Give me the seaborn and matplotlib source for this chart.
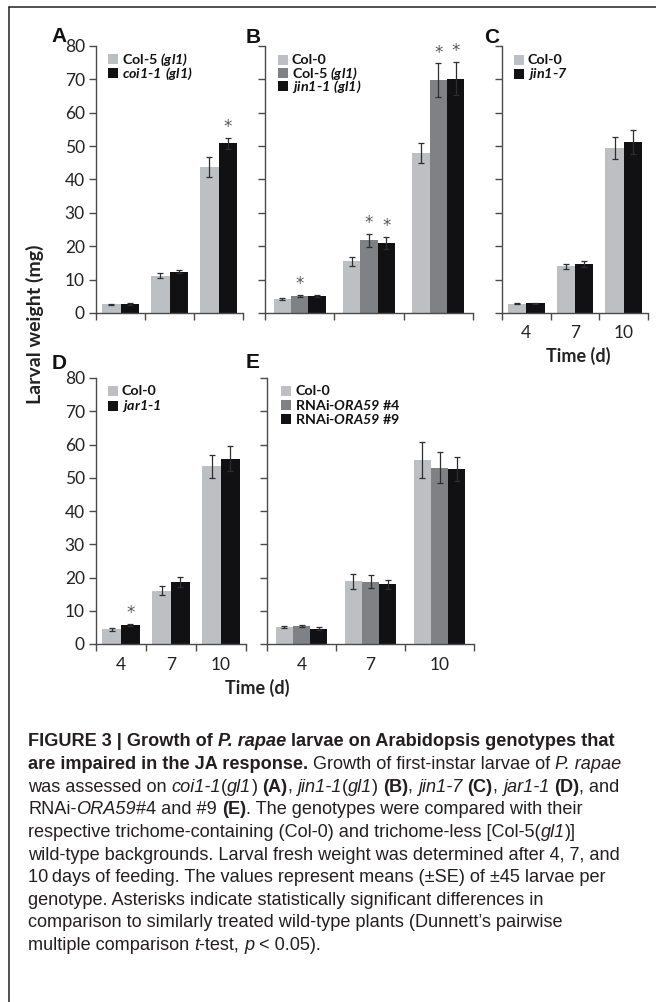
import matplotlib
matplotlib.use("Agg")
import matplotlib.pyplot as plt
from matplotlib import font_manager
from matplotlib.font_manager import FontProperties
from matplotlib.lines import Line2D
import seaborn as sns
import pandas as pd
import numpy as np

# ---------------- data ----------------
days = ["4", "7", "10"]

# Panel A
a_labels = [r"Col-5 $\mathbfit{(gl1)}$", r"$\mathbfit{coi1}$-$\mathbfit{1\ (gl1)}$"]
a_col5 = [2.6, 11.2, 43.7]
a_col5_se = [0.2, 0.7, 3.0]
a_coi1 = [2.7, 12.4, 50.8]
a_coi1_se = [0.3, 0.4, 1.6]
a_col5_sig = [0, 0, 0]
a_coi1_sig = [0, 0, 1]

# Panel B
b_labels = ["Col-0", r"Col-5 $\mathbfit{(gl1)}$", r"$\mathbfit{jin1}$-$\mathbfit{1\ (gl1)}$"]
b_col0 = [4.1, 15.5, 48.0]
b_col0_se = [0.3, 1.3, 3.0]
b_col5 = [5.2, 21.8, 69.8]
b_col5_se = [0.3, 1.9, 5.0]
b_jin1 = [5.2, 21.1, 70.2]
b_jin1_se = [0.3, 1.8, 5.0]
b_col0_sig = [0, 0, 0]
b_col5_sig = [1, 1, 1]
b_jin1_sig = [0, 1, 1]

# Panel C
c_labels = ["Col-0", r"$\mathbfit{jin1}$-$\mathbfit{7}$"]
c_col0 = [2.8, 14.0, 49.4]
c_col0_se = [0.2, 0.8, 3.3]
c_jin17 = [2.9, 14.6, 51.2]
c_jin17_se = [0.2, 0.9, 3.6]
c_col0_sig = [0, 0, 0]
c_jin17_sig = [0, 0, 0]

# Panel D
d_labels = ["Col-0", r"$\mathbfit{jar1}$-$\mathbfit{1}$"]
d_col0 = [4.4, 16.0, 53.4]
d_col0_se = [0.4, 1.3, 3.5]
d_jar1 = [5.7, 18.6, 55.7]
d_jar1_se = [0.4, 1.5, 3.7]
d_col0_sig = [0, 0, 0]
d_jar1_sig = [1, 0, 0]

# Panel E
e_labels = ["Col-0", r"RNAi-$\mathbfit{ORA59}$ #4", r"RNAi-$\mathbfit{ORA59}$ #9"]
e_col0 = [5.1, 18.8, 55.3]
e_col0_se = [0.4, 2.2, 5.5]
e_ora4 = [5.3, 18.7, 53.0]
e_ora4_se = [0.3, 2.0, 4.7]
e_ora9 = [4.6, 17.9, 52.6]
e_ora9_se = [0.5, 1.4, 3.7]
e_col0_sig = [0, 0, 0]
e_ora4_sig = [0, 0, 0]
e_ora9_sig = [0, 0, 0]

yticks = [0, 10, 20, 30, 40, 50, 60, 70, 80]
ylabel = "Larval weight (mg)"
xlabel = "Time (d)"
panel_letters = ["A", "B", "C", "D", "E"]

caption_lines = [
    [("FIGURE 3 | Growth of ", "b"), ("P. rapae", "bi"), (" larvae on Arabidopsis genotypes that", "b")],
    [("are impaired in the JA response.", "b"), (" Growth of first-instar larvae of ", "r"), ("P. rapae", "i")],
    [("was assessed on ", "r"), ("coi1-1", "i"), ("(", "r"), ("gl1", "i"), (") ", "r"), ("(A)", "b"),
     (", ", "r"), ("jin1-1", "i"), ("(", "r"), ("gl1", "i"), (") ", "r"), ("(B)", "b"), (", ", "r"),
     ("jin1-7", "i"), (" ", "r"), ("(C)", "b"), (", ", "r"), ("jar1-1", "i"), (" ", "r"), ("(D)", "b"),
     (", and", "r")],
    [("RNAi-", "r"), ("ORA59", "i"), ("#4 and #9 ", "r"), ("(E)", "b"),
     (". The genotypes were compared with their", "r")],
    [("respective trichome-containing (Col-0) and trichome-less [Col-5(", "r"), ("gl1", "i"), (")]", "r")],
    [("wild-type backgrounds. Larval fresh weight was determined after 4, 7, and", "r")],
    [("10\u2009days of feeding. The values represent means (\u00b1SE) of \u00b145 larvae per", "r")],
    [("genotype. Asterisks indicate statistically significant differences in", "r")],
    [("comparison to similarly treated wild-type plants (Dunnett\u2019s pairwise", "r")],
    [("multiple comparison ", "r"), ("t", "i"), ("-test, ", "r"), ("p", "i"), (" < 0.05).", "r")],
]

# ---------------- style ----------------
available = {f.name for f in font_manager.fontManager.ttflist}


def pick(*names):
    for n in names:
        if n in available:
            return n
    return "DejaVu Sans"


CHART_FONT = pick("Lato", "Open Sans", "DejaVu Sans")
CAP_FONT = pick("Liberation Sans", "DejaVu Sans")
LETTER_FONT = pick("Liberation Sans", "DejaVu Sans")

sns.set_theme(style="ticks")
plt.rcParams["font.family"] = [CHART_FONT, "DejaVu Sans"]
plt.rcParams["mathtext.fontset"] = "custom"
plt.rcParams["mathtext.rm"] = f"{CHART_FONT}:bold"
plt.rcParams["mathtext.bf"] = f"{CHART_FONT}:bold"
plt.rcParams["mathtext.it"] = f"{CHART_FONT}:italic:bold"
try:
    plt.rcParams["mathtext.bfit"] = f"{CHART_FONT}:italic:bold"
except KeyError:
    pass

W, H = 656, 1002
fig = plt.figure(figsize=(W / 100, H / 100), dpi=100)
fig.patch.set_facecolor("white")

LIGHT = "#bdbfc2"
MID = "#7f8185"
DARK = "#111113"
AXC = "#4a4a4a"


def fx(px):
    return px / W


def fy(py):
    return 1 - py / H


def make_ax(left, top, right, bottom):
    return fig.add_axes([fx(left), fy(bottom), (right - left) / W, (bottom - top) / H])


def draw_legend(labels, colors, marker_x, text_x, y0, dy):
    for k, (lab, c) in enumerate(zip(labels, colors)):
        yc = y0 + k * dy
        fig.add_artist(Line2D([fx(marker_x)], [fy(yc)], transform=fig.transFigure, marker="s",
                              linestyle="none", markersize=6.5, markerfacecolor=c,
                              markeredgewidth=0))
        fig.text(fx(text_x), fy(yc + 4.5), lab, ha="left", va="baseline", fontsize=10.3,
                 fontweight="bold", color="#111111")


def draw_panel(ax, labels, means, ses, sigs, colors, show_ylab, show_xlab, leg):
    rows = []
    for g, lab in enumerate(labels):
        for d, day in enumerate(days):
            rows.append({"day": day, "genotype": lab, "weight": means[g][d]})
    df = pd.DataFrame(rows)
    sns.barplot(data=df, x="day", y="weight", hue="genotype", order=days, hue_order=labels,
                palette=colors, width=0.75, gap=0, errorbar=None, saturation=1,
                linewidth=0, legend=False, ax=ax)
    for p in ax.patches:
        cx = p.get_x() + p.get_width() / 2
        d = int(round(cx))
        fc = p.get_facecolor()
        g = int(np.argmin([np.sum(np.abs(np.array(matplotlib.colors.to_rgba(c)) - np.array(fc)))
                           for c in colors]))
        m, e = means[g][d], ses[g][d]
        ax.errorbar(cx, m, yerr=e, fmt="none", ecolor="#2e2e2e", elinewidth=0.9,
                    capsize=2.3, capthick=0.9, zorder=4)
        if sigs[g][d]:
            ax.text(cx, m + e + 0.5, "*", ha="center", va="bottom", fontsize=12,
                    color="#555555", fontfamily="DejaVu Sans", zorder=5)
    ax.set_ylim(0, 80)
    ax.set_xlim(-0.5, 2.5)
    ax.set_yticks(yticks)
    if show_ylab:
        ax.set_yticklabels([str(t) for t in yticks])
    else:
        ax.set_yticklabels([])
    ax.set_xticks([-0.5, 0.5, 1.5, 2.5])
    ax.set_xticklabels([])
    ax.set_xticks([0, 1, 2], minor=True)
    if show_xlab:
        ax.set_xticklabels(days, minor=True)
    ax.tick_params(axis="x", which="minor", length=0, pad=9, labelsize=12.5, labelcolor="#222222")
    ax.tick_params(axis="x", which="major", length=5, width=1.0, color=AXC, direction="out")
    ax.tick_params(axis="y", which="major", length=5, width=1.0, color=AXC, direction="out",
                   pad=3, labelsize=12.5, labelcolor="#222222")
    ax.set_xlabel("")
    ax.set_ylabel("")
    for s in ["top", "right"]:
        ax.spines[s].set_visible(False)
    for s in ["left", "bottom"]:
        ax.spines[s].set_color(AXC)
        ax.spines[s].set_linewidth(1.0)
    ax.set_facecolor("none")
    draw_legend(labels, colors, *leg)


axA = make_ax(96, 46, 243, 313)
axB = make_ax(265, 46, 473, 313)
axC = make_ax(502, 46, 648, 313)
axD = make_ax(96, 378, 246, 644)
axE = make_ax(267, 378, 474, 644)

draw_panel(axA, a_labels, [a_col5, a_coi1], [a_col5_se, a_coi1_se], [a_col5_sig, a_coi1_sig],
           [LIGHT, DARK], True, False, (113, 122, 59, 14))
draw_panel(axB, b_labels, [b_col0, b_col5, b_jin1], [b_col0_se, b_col5_se, b_jin1_se],
           [b_col0_sig, b_col5_sig, b_jin1_sig], [LIGHT, MID, DARK], False, False,
           (283, 292, 60, 13.2))
draw_panel(axC, c_labels, [c_col0, c_jin17], [c_col0_se, c_jin17_se], [c_col0_sig, c_jin17_sig],
           [LIGHT, DARK], False, True, (519, 528, 60, 13.5))
draw_panel(axD, d_labels, [d_col0, d_jar1], [d_col0_se, d_jar1_se], [d_col0_sig, d_jar1_sig],
           [LIGHT, DARK], True, True, (113, 122, 391, 14.5))
draw_panel(axE, e_labels, [e_col0, e_ora4, e_ora9], [e_col0_se, e_ora4_se, e_ora9_se],
           [e_col0_sig, e_ora4_sig, e_ora9_sig], [LIGHT, MID, DARK], False, True,
           (286, 295, 391, 14))

for letter, (lx, ly) in zip(panel_letters, [(51, 42), (246, 43), (484, 43), (52, 369), (246, 368)]):
    fig.text(fx(lx), fy(ly), letter, fontsize=15, fontweight="bold", family=LETTER_FONT,
             ha="left", va="baseline", color="#111111")

fig.text(fx(35), fy(324), ylabel, rotation=90, ha="center", va="center", fontsize=14,
         fontweight="bold", color="#222222")
fig.text(fx(578), fy(356), xlabel, ha="center", va="center", fontsize=13,
         fontweight="bold", color="#222222")
fig.text(fx(257), fy(688), xlabel, ha="center", va="center", fontsize=13,
         fontweight="bold", color="#222222")

fig.add_artist(Line2D([fx(9), 1], [fy(7), fy(7)], transform=fig.transFigure, color="#222222", lw=1.1))
fig.add_artist(Line2D([fx(9), fx(9)], [fy(7), 0], transform=fig.transFigure, color="#222222", lw=1.1))

# caption
renderer = fig.canvas.get_renderer()
STY = {"r": ("normal", "normal"), "i": ("italic", "normal"), "b": ("normal", "bold"),
       "bi": ("italic", "bold")}


def fp_for(style, size):
    st, wt = STY[style]
    return FontProperties(family=CAP_FONT, style=st, weight=wt, size=size)


def seg_width(text, fp):
    t = fig.text(0, 0, text + "|", fontproperties=fp)
    w1 = t.get_window_extent(renderer).width
    t.set_text("|")
    w2 = t.get_window_extent(renderer).width
    t.remove()
    return w1 - w2


base = 10.0
w_ref = sum(seg_width(s, fp_for(st, base)) for s, st in caption_lines[5])
cap_size = base * (594.0 / w_ref)

cap_x0 = 28
cap_y0 = 742
cap_dy = 22.6
for i, line in enumerate(caption_lines):
    x = cap_x0
    y = cap_y0 + i * cap_dy
    for s, st in line:
        fp = fp_for(st, cap_size)
        fig.text(fx(x), fy(y), s, fontproperties=fp, ha="left", va="center",
                 color="#231f20")
        x += seg_width(s, fp)

fig.savefig("out.png", dpi=100, facecolor="white")
